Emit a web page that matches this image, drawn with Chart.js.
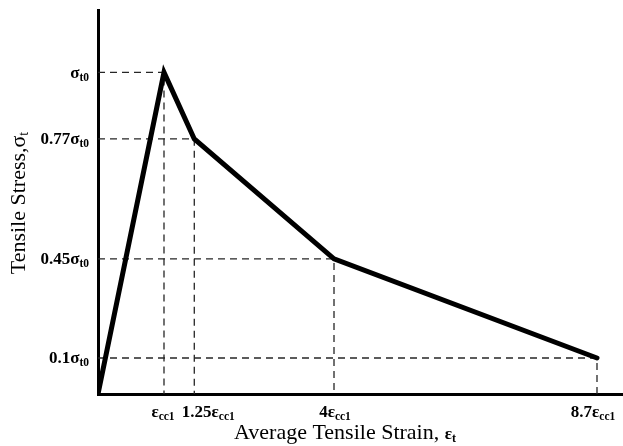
<!DOCTYPE html>
<html>
<head>
<meta charset="utf-8">
<script src="https://cdn.jsdelivr.net/npm/chart.js@4.4.1/dist/chart.umd.min.js"></script>
<style>
html,body{margin:0;padding:0;background:#fff;}
#wrap{position:relative;width:623px;height:446px;}
</style>
</head>
<body>
<div id="wrap"><canvas id="c"></canvas></div>
<script>
// Schematic diagram positions (axis units, εcc1 ≈ 1, σt0 = 1)
const strainPos = [0, 1, 1.459, 3.576, 7.561];
const stressPos = [0, 1, 0.793, 0.420, 0.112];
// Tick labels: [main text, subscript]
const xTickLabels = [['ε','cc1'], ['1.25ε','cc1'], ['4ε','cc1'], ['8.7ε','cc1']];
const yTickLabels = [['σ','t0'], ['0.77σ','t0'], ['0.45σ','t0'], ['0.1σ','t0']];
const xTitle = ['Average Tensile Strain, ', 'ε', 't'];
const yTitle = ['Tensile Stress,', 'σ', 't'];
const xMax = 7.955, yMax = 1.194;

// label nudges (style, not data)
const xLabelShift = [-1, 14, 1, -4];

const FONT = "'Liberation Serif', 'Times New Roman', serif";

const curve = strainPos.map((x, i) => ({x: x, y: stressPos[i]}));
const guides = [];
for (let i = 1; i < strainPos.length; i++) {
  guides.push({
    data: [{x: 0, y: stressPos[i]}, {x: strainPos[i], y: stressPos[i]}, {x: strainPos[i], y: 0}],
    showLine: true, pointRadius: 0, borderColor: '#262626', borderWidth: 1.3,
    borderDash: [7, 5], fill: false, tension: 0, order: 2
  });
}

function drawParts(ctx, parts, x, y, align) {
  let total = 0;
  parts.forEach(p => { ctx.font = p.font; p.w = ctx.measureText(p.t).width; total += p.w; });
  let cx = align === 'right' ? x - total : (align === 'center' ? x - total / 2 : x);
  parts.forEach(p => {
    ctx.font = p.font;
    ctx.fillText(p.t, cx, y + (p.dy || 0));
    cx += p.w;
  });
}

const labelPlugin = {
  id: 'labels',
  afterDraw(chart) {
    const ctx = chart.ctx;
    const xs = chart.scales.x, ys = chart.scales.y;
    ctx.save();
    ctx.fillStyle = '#000';
    ctx.textBaseline = 'alphabetic';
    const big = 'bold 17px ' + FONT, small = 'bold 11.5px ' + FONT;
    yTickLabels.forEach((lab, i) => {
      const py = ys.getPixelForValue(stressPos[i + 1]);
      drawParts(ctx, [{t: lab[0], font: big}, {t: lab[1], font: small, dy: 3}], 89, py + 5.5, 'right');
    });
    xTickLabels.forEach((lab, i) => {
      const px = xs.getPixelForValue(strainPos[i + 1]) + xLabelShift[i];
      drawParts(ctx, [{t: lab[0], font: big}, {t: lab[1], font: small, dy: 3}], px, 417, 'center');
    });
    drawParts(ctx, [
      {t: xTitle[0], font: '22px ' + FONT},
      {t: xTitle[1], font: 'bold 17px ' + FONT},
      {t: xTitle[2], font: 'bold 12px ' + FONT, dy: 3}
    ], 345, 439, 'center');
    ctx.translate(25, 203);
    ctx.rotate(-Math.PI / 2);
    drawParts(ctx, [
      {t: yTitle[0], font: '22px ' + FONT},
      {t: yTitle[1], font: '22px ' + FONT},
      {t: yTitle[2], font: '14px ' + FONT, dy: 3}
    ], 0, 0, 'center');
    ctx.restore();
  }
};

new Chart(document.getElementById('c'), {
  type: 'scatter',
  data: {
    datasets: guides.concat([{
      data: curve, showLine: true, pointRadius: 0, borderColor: '#000',
      borderWidth: 5, borderJoinStyle: 'miter', borderCapStyle: 'round',
      fill: false, tension: 0, order: 1
    }])
  },
  options: {
    responsive: true,
    maintainAspectRatio: false,
    animation: false,
    devicePixelRatio: 1,
    layout: {padding: {left: 98, top: 10, right: 0, bottom: 52}},
    plugins: {legend: {display: false}, tooltip: {enabled: false}},
    scales: {
      x: {
        type: 'linear', min: 0, max: xMax,
        grid: {display: true, color: 'rgba(0,0,0,0)', drawTicks: false},
        ticks: {display: false},
        border: {display: true, color: '#000', width: 3}
      },
      y: {
        type: 'linear', min: 0, max: yMax,
        grid: {display: true, color: 'rgba(0,0,0,0)', drawTicks: false},
        ticks: {display: false},
        border: {display: true, color: '#000', width: 3}
      }
    }
  },
  plugins: [labelPlugin]
});
</script>
</body>
</html>
